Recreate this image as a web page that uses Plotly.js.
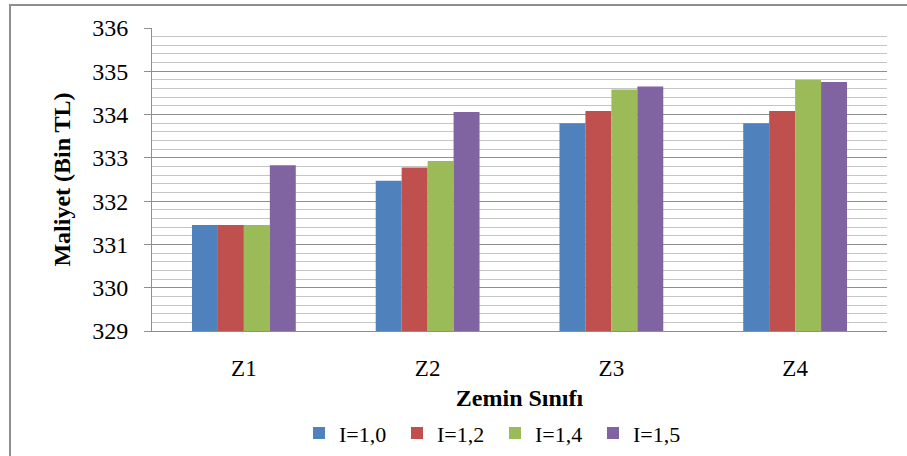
<!DOCTYPE html>
<html>
<head>
<meta charset="utf-8">
<script src="https://cdn.plot.ly/plotly-3.0.1.min.js"></script>
<style>
  html, body { margin: 0; padding: 0; background: #ffffff; }
  #wrap { position: relative; width: 907px; height: 456px; overflow: hidden; }
  #chart { position: absolute; left: 0; top: 0; width: 907px; height: 456px; }
  #frame { position: absolute; left: 9px; top: 4px; width: 920px; height: 470px;
           border-top: 2px solid #8e8e8e; border-left: 2px solid #8e8e8e; pointer-events: none; }
</style>
</head>
<body>
<div id="wrap">
  <div id="chart"></div>
  <div id="frame"></div>
</div>
<script>
// Soil classes on the x axis
const categories = ['Z1', 'Z2', 'Z3', 'Z4'];

// Cost (thousand TL) for each importance factor I
const seriesNames = ['I=1,0', 'I=1,2', 'I=1,4', 'I=1,5'];
const costI10 = [331.45, 332.47, 333.80, 333.80];
const costI12 = [331.45, 332.78, 334.08, 334.08];
const costI14 = [331.45, 332.93, 334.58, 334.80];
const costI15 = [332.83, 334.06, 334.65, 334.75];

const yTickValues = [329, 330, 331, 332, 333, 334, 335, 336];

const seriesValues = [costI10, costI12, costI14, costI15];
const seriesColors = ['#4F81BD', '#C0504D', '#9BBB59', '#8064A2'];

const FONT = "'Liberation Serif'";

const traces = seriesValues.map((vals, i) => ({
  type: 'bar',
  name: seriesNames[i],
  x: categories,
  y: vals,
  marker: { color: seriesColors[i], line: { width: 0 } },
  hoverinfo: 'x+y+name'
}));

const layout = {
  width: 907,
  height: 456,
  margin: { l: 152, r: 20, t: 28, b: 125, autoexpand: false },
  paper_bgcolor: '#ffffff',
  plot_bgcolor: '#ffffff',
  font: { family: FONT, color: '#000000', size: 22 },
  barmode: 'group',
  bargap: 0.435,
  bargroupgap: 0,
  showlegend: true,
  legend: {
    orientation: 'h',
    x: 0.2,
    xanchor: 'left',
    y: -0.268,
    yanchor: 'top',
    font: { family: FONT, size: 22, color: '#000000' },
    itemwidth: 30,
    entrywidth: 53,
    entrywidthmode: 'pixels',
    traceorder: 'normal',
    bgcolor: 'rgba(0,0,0,0)'
  },
  xaxis: {
    type: 'category',
    showgrid: false,
    showline: true,
    linecolor: '#8e8e8e',
    linewidth: 1,
    ticks: '',
    ticklabelstandoff: 16,
    tickfont: { family: FONT, size: 23, color: '#000000' },
    title: { text: '<b>Zemin Sınıfı</b>', font: { family: FONT, size: 24, color: '#000000' }, standoff: 9 },
    automargin: false,
    fixedrange: true
  },
  yaxis: {
    range: [329, 336],
    tickvals: yTickValues,
    ticktext: yTickValues.map(String),
    showgrid: true,
    gridcolor: '#8e8e8e',
    gridwidth: 1,
    minor: { dtick: 0.2, showgrid: true, gridcolor: '#c4c4c4', gridwidth: 1, ticks: '' },
    showline: true,
    linecolor: '#8e8e8e',
    linewidth: 1,
    ticks: 'outside',
    ticklen: 7,
    tickcolor: '#8e8e8e',
    ticklabelstandoff: 11,
    tickfont: { family: FONT, size: 24, color: '#000000' },
    title: { text: '<b>Maliyet (Bin TL)</b>', font: { family: FONT, size: 24, color: '#000000' }, standoff: 14 },
    zeroline: false,
    automargin: false,
    fixedrange: true
  }
};

Plotly.newPlot('chart', traces, layout, { displayModeBar: false, staticPlot: true });
</script>
</body>
</html>
